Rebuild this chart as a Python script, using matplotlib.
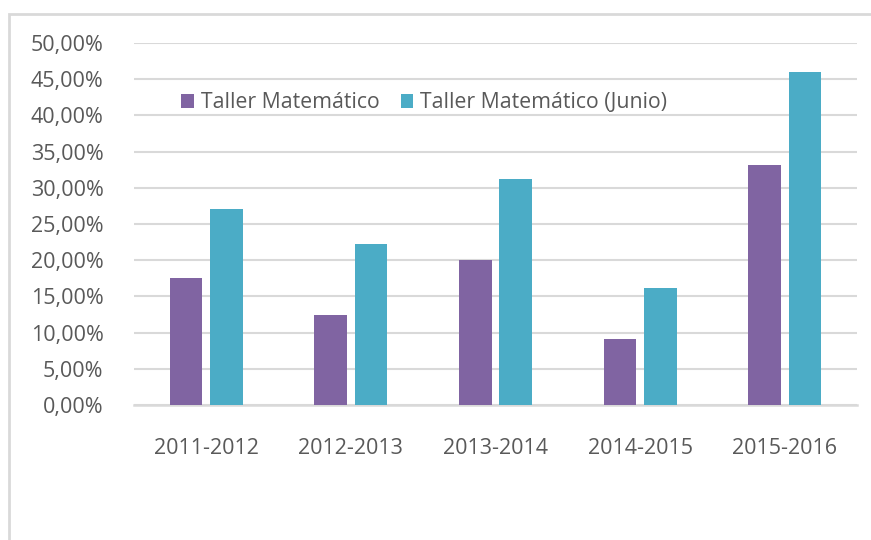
import numpy as np
import matplotlib.pyplot as plt
from matplotlib.patches import Rectangle
from matplotlib.ticker import FuncFormatter

# data (fractions)
cursos = ['2011-2012', '2012-2013', '2013-2014', '2014-2015', '2015-2016']
taller = [0.176, 0.125, 0.200, 0.091, 0.331]
taller_junio = [0.271, 0.223, 0.312, 0.162, 0.460]
series_names = ['Taller Matemático', 'Taller Matemático (Junio)']

purple = '#8064A2'
teal = '#4BACC6'
grey_txt = '#595959'
grid_col = '#D9D9D9'

plt.rcParams['font.family'] = ['Open Sans', 'DejaVu Sans']

W, H = 871, 540
fig = plt.figure(figsize=(W / 100, H / 100), dpi=100)
ax = fig.add_axes([134 / W, 1 - 405 / H, (857 - 134) / W, (405 - 43) / H])

# chart frame
fig.patches.append(Rectangle((9 / W, -0.2), 2, 1.2 - 14 / H, transform=fig.transFigure,
                             fill=False, edgecolor=grid_col, linewidth=2))

x = np.arange(len(cursos))
bw = 0.225
off = 0.14
ax.bar(x - off, taller, bw, color=purple, label=series_names[0], zorder=3)
ax.bar(x + off, taller_junio, bw, color=teal, label=series_names[1], zorder=3)

ax.set_xlim(-0.5, len(cursos) - 0.5)
ax.set_ylim(0, 0.5)
ax.set_yticks(np.arange(0, 0.501, 0.05))
ax.yaxis.set_major_formatter(FuncFormatter(lambda v, p: f'{v * 100:.2f}%'.replace('.', ',')))
ax.set_xticks(x)
ax.set_xticklabels(cursos)

ax.grid(axis='y', color=grid_col, linewidth=1.5, zorder=0)
for s in ['top', 'right', 'left']:
    ax.spines[s].set_visible(False)
ax.spines['bottom'].set_color(grid_col)
ax.spines['bottom'].set_linewidth(1.8)
ax.tick_params(axis='both', length=0, colors=grey_txt, labelsize=15.5)
ax.tick_params(axis='y', pad=22)
ax.tick_params(axis='x', pad=24)

ax.legend(loc='center', bbox_to_anchor=((424 - 134) / (857 - 134), (405 - 103) / (405 - 43)),
          ncol=2, frameon=False, fontsize=15.3, labelcolor=grey_txt,
          handlelength=0.6, handleheight=0.6, handletextpad=0.3, columnspacing=1.0)

fig.savefig('out.png', dpi=100)
